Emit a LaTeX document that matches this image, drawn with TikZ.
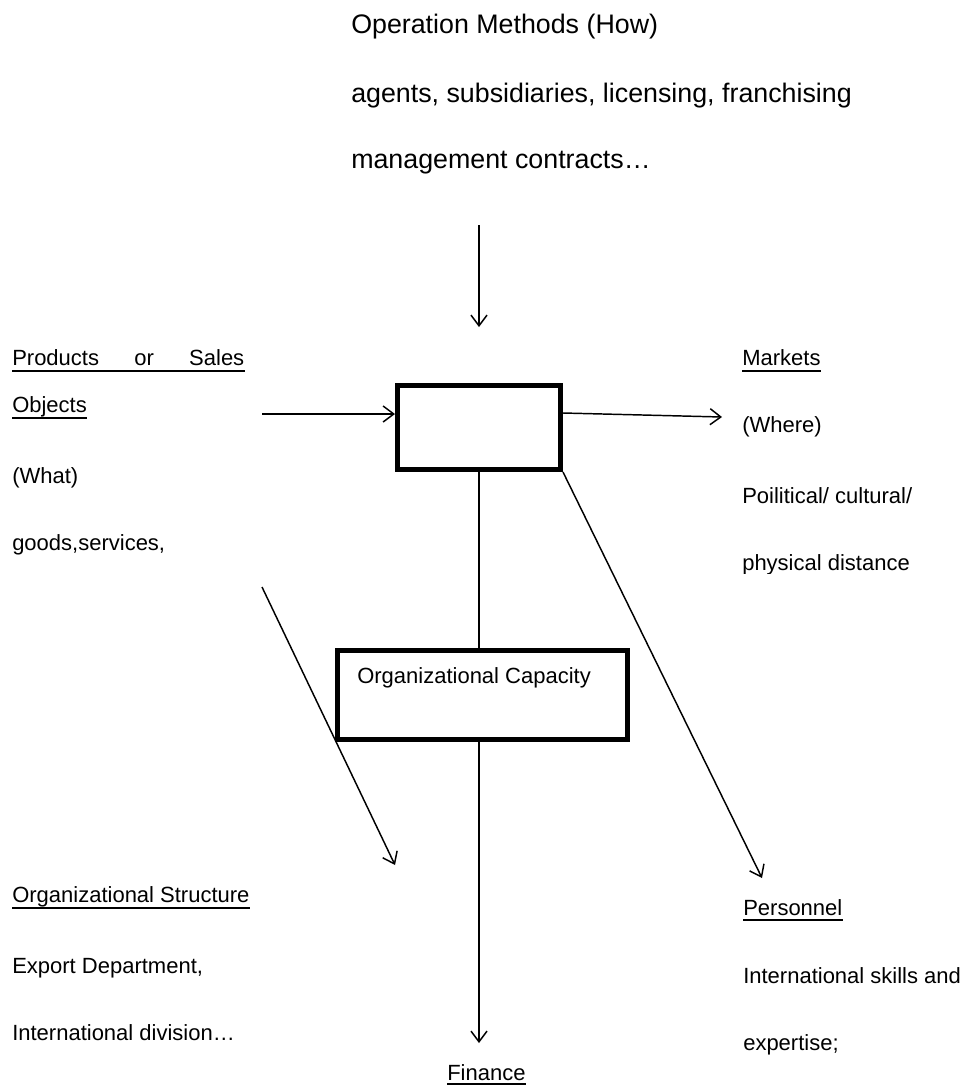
\documentclass[tikz,border=0pt]{standalone}
\usepackage{fontspec}
\setmainfont{Liberation Sans}
\usetikzlibrary{arrows.meta,calc}
\begin{document}
\begin{tikzpicture}[x=0.75pt,y=-0.75pt,
  txt/.style={anchor=base west,inner sep=0pt,font=\fontsize{16.5pt}{20pt}\selectfont},
  toptxt/.style={anchor=base west,inner sep=0pt,font=\fontsize{20.1pt}{24pt}\selectfont},
  thickbox/.style={draw,line width=3.75pt,inner sep=0pt},
  conn/.style={line width=1.1pt},
  arr/.style={conn,-{Straight Barb[length=8pt,width=12pt]}},
  ul/.style={line width=1.2pt}]
\useasboundingbox (0,0) rectangle (966,1086);

% top texts
\node[toptxt] (om1) at (351,33) {Operation Methods (How)};
\node[toptxt] (om2) at (351,102) {agents, subsidiaries, licensing, franchising};
\node[toptxt] (om3) at (351,168) {management contracts…};

% boxes
\node[thickbox,minimum width=122.25pt,minimum height=63pt] (b1) at (479,427.5) {};
\node[thickbox,minimum width=217.5pt,minimum height=66.75pt] (b2) at (482.5,695) {};
\node[txt] (cap) at (357,683) {Organizational Capacity};

% left texts
\node[txt] (ps) at (12,365) {\hbox to 174pt{Products\hfill or\hfill Sales}};
\node[txt] (obj) at (12,412) {Objects};
\node[txt] (what) at (12,483) {(What)};
\node[txt] (goods) at (12,550) {goods,services,};
\draw[ul] ($(ps.base west)+(0,6)$) -- ($(ps.base east)+(0,6)$);
\draw[ul] ($(obj.base west)+(0,6)$) -- ($(obj.base east)+(0,6)$);

% right texts
\node[txt] (mk) at (742,365) {Markets};
\draw[ul] ($(mk.base west)+(0,6)$) -- ($(mk.base east)+(0,6)$);
\node[txt] (wh) at (742,432) {(Where)};
\node[txt] (pol) at (742,503) {Poilitical/ cultural/};
\begin{scope}
\clip (700,530) rectangle (966,573);
\node[txt] (phy) at (742,570) {physical distance};
\end{scope}

% bottom left
\node[txt] (os) at (12,902) {Organizational Structure};
\draw[ul] ($(os.base west)+(0,6)$) -- ($(os.base east)+(0,6)$);
\node[txt] (ed) at (12,973) {Export Department,};
\node[txt] (id) at (12,1040) {International division…};

% bottom right
\node[txt] (pe) at (743,915) {Personnel};
\draw[ul] ($(pe.base west)+(0,5)$) -- ($(pe.base east)+(0,5)$);
\node[txt] (isk) at (743,983) {International skills and};
\node[txt] (ex) at (743,1050) {expertise;};

% finance
\node[txt] (fin) at (447,1080) {Finance};
\draw[ul] ($(fin.base west)+(0,4)$) -- ($(fin.base east)+(0,4)$);

% connectors
\coordinate (omA) at (479,225);
\coordinate (omB) at (479,327);
\draw[arr] (omA) -- (omB);
\coordinate (pA) at (262,414);
\draw[arr] (pA) -- (pA -| b1.west);
\coordinate (mB) at (722,417);
\draw[arr] ([yshift=10.875pt]b1.east) -- (mB);
\draw[conn] (b1.south) -- (b1.south |- b2.north);
\coordinate (fA) at (479,1043);
\draw[arr] (b1.south |- b2.south) -- (fA);
\coordinate (peA) at (762,878);
\draw[arr] (b1.south east) -- (peA);
\coordinate (gA) at (262,587);
\coordinate (gB) at (395,865);
\draw[arr] (gA) -- (gB);
\end{tikzpicture}
\end{document}
